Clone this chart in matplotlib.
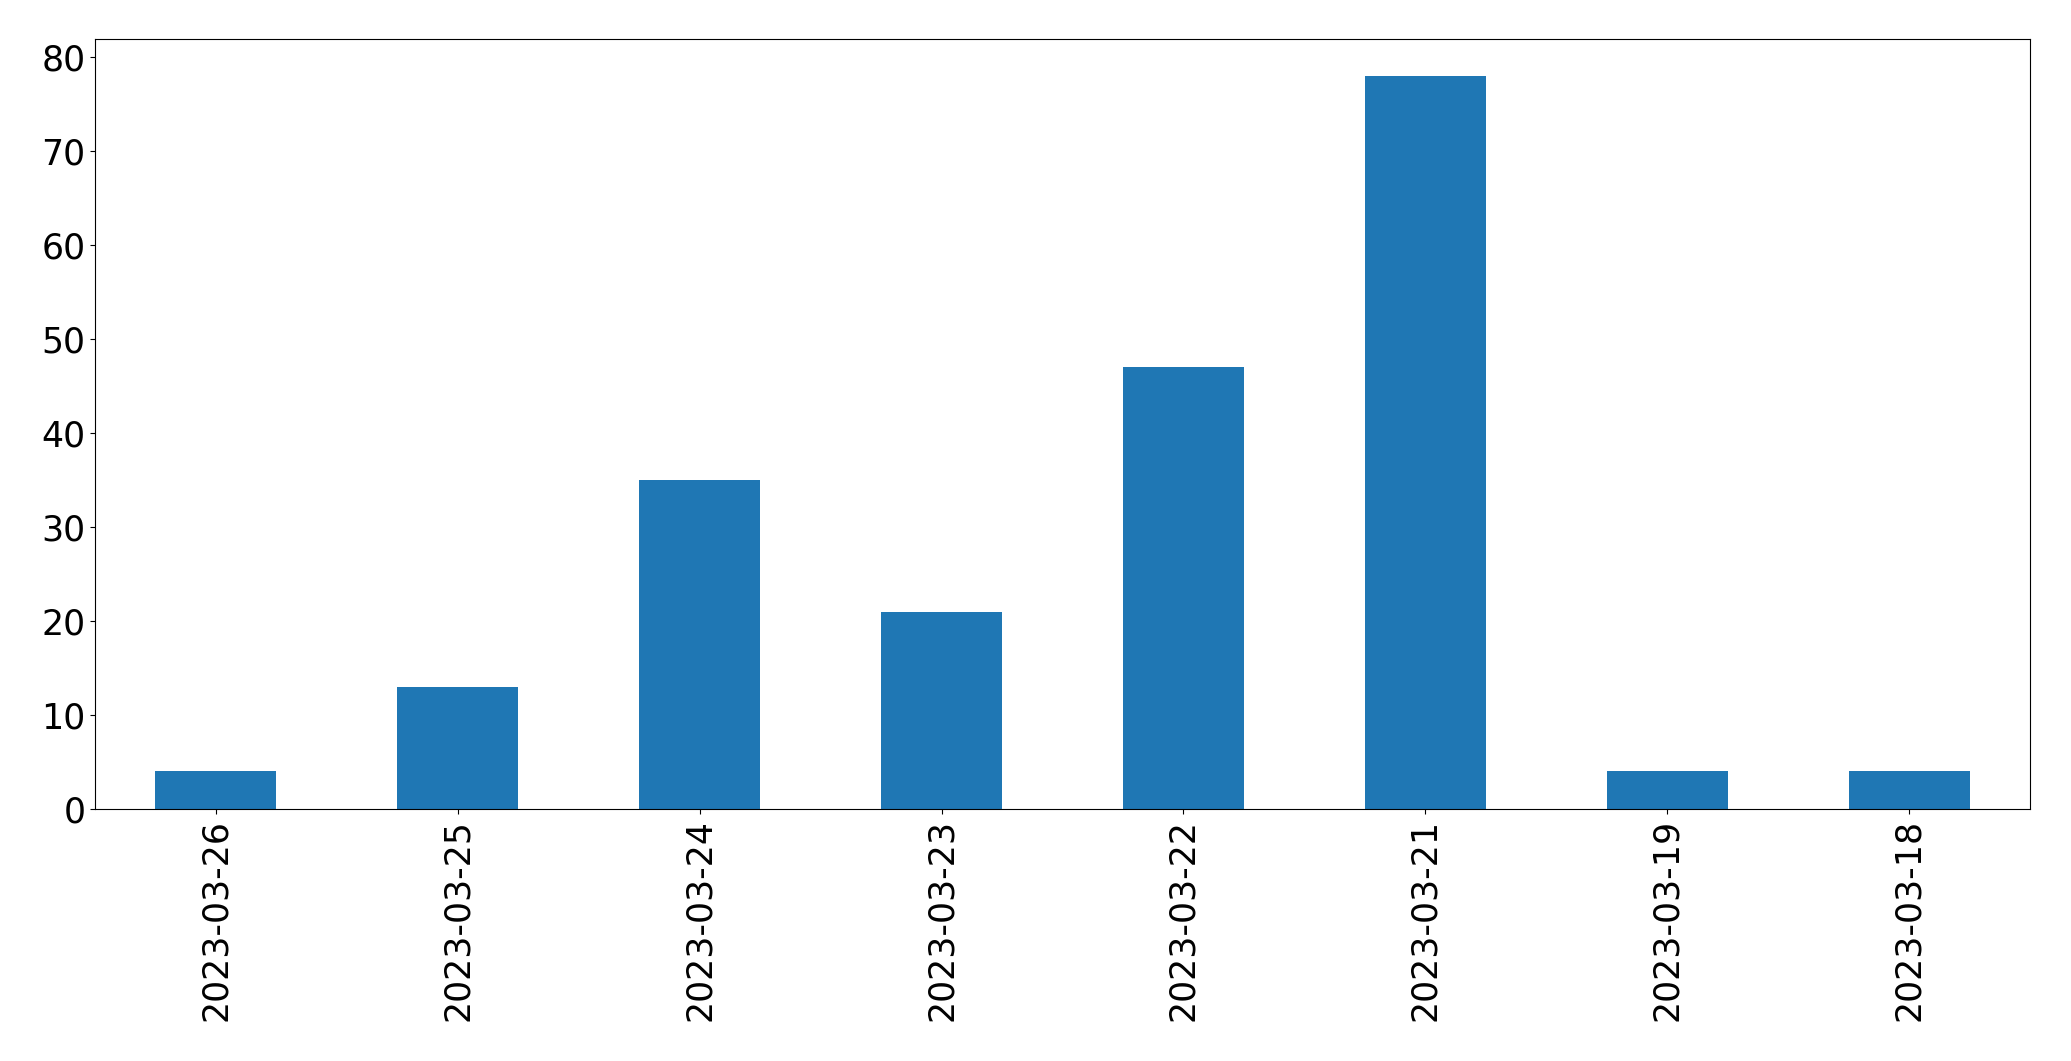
import matplotlib
matplotlib.use("Agg")
import matplotlib.pyplot as plt

dates = ["2023-03-26", "2023-03-25", "2023-03-24", "2023-03-23",
         "2023-03-22", "2023-03-21", "2023-03-19", "2023-03-18"]
counts = [4, 13, 35, 21, 47, 78, 4, 4]

fig = plt.figure(figsize=(20.71, 10.61), dpi=100)
ax = fig.add_axes([95/2071, 1 - 809/1061, (2030-95)/2071, (809-39)/1061])
x = list(range(len(dates)))
ax.bar(x, counts, width=0.5, color="#1f77b4")
ax.set_xlim(-0.5, len(dates) - 0.5)
ax.set_ylim(0, max(counts) * 1.05)
ax.set_xticks(x)
ax.set_xticklabels(dates, rotation=90)
ax.tick_params(labelsize=25)
fig.savefig("out.png", dpi=100)
